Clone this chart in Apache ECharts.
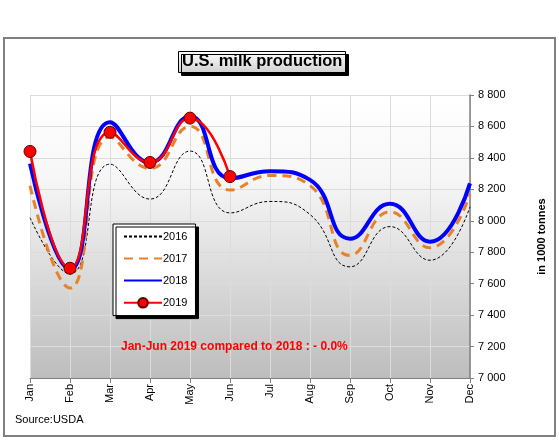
<!DOCTYPE html>
<html><head><meta charset="utf-8">
<script src="https://cdn.jsdelivr.net/npm/echarts@6/dist/echarts.min.js"></script>
<style>html,body{margin:0;padding:0;background:#fff}#c{width:559px;height:441px}</style>
</head><body><div id="c"></div>
<script>
const months = ['Jan','Feb','Mar','Apr','May','Jun','Jul','Aug','Sep','Oct','Nov','Dec'];
const y2016 = [8020, 7662, 8360, 8138, 8443, 8050, 8123, 8040, 7707, 7963, 7749, 8089];
const y2017 = [8223, 7572, 8533, 8332, 8601, 8195, 8288, 8224, 7779, 8057, 7828, 8170];
const y2018 = [8364, 7690, 8627, 8370, 8665, 8270, 8315, 8260, 7886, 8108, 7867, 8238];
const y2019 = [8441, 7698, 8563, 8371, 8653, 8281];
const yMin = 7000, yMax = 8800, yStep = 200;
const titleText = 'U.S. milk production';
const noteText = 'Jan-Jun 2019 compared to 2018 : - 0.0%';
const sourceText = 'Source:USDA';
const yName = 'in 1000 tonnes';

const chart = echarts.init(document.getElementById('c'), null, {renderer:'canvas'});
const font = 'Liberation Sans, Arial, sans-serif';
const noSym = {color:'rgba(0,0,0,0)',borderColor:'rgba(0,0,0,0)',borderWidth:0,opacity:0};
chart.setOption({
  animation:false,
  textStyle:{fontFamily:font},
  title:[{
    text:titleText, left:178, top:51, padding:[2,3,3,4],
    textStyle:{fontSize:16.5,fontWeight:'bold',color:'#000',fontFamily:font},
    backgroundColor:new echarts.graphic.LinearGradient(0,0,0,1,[{offset:0,color:'#ffffff'},{offset:1,color:'#d0d0d0'}]),
    borderColor:'#000',borderWidth:1,
    shadowColor:'rgba(0,0,0,1)',shadowBlur:0,shadowOffsetX:3,shadowOffsetY:3
  },{
    text:noteText, left:121, top:341, padding:0,
    textStyle:{fontSize:12,fontWeight:'bold',color:'#ff0000',fontFamily:font}
  },{
    text:sourceText, left:15, top:414, padding:0,
    textStyle:{fontSize:11,fontWeight:'normal',color:'#000',fontFamily:font}
  }],
  legend:{
    orient:'vertical', left:113, top:224, padding:[7,8,7,10], itemGap:11,
    itemWidth:38, itemHeight:12,
    backgroundColor:'#fff', borderColor:'#000', borderWidth:1,
    shadowColor:'rgba(0,0,0,1)',shadowBlur:0,shadowOffsetX:3,shadowOffsetY:3,
    textStyle:{fontSize:11,color:'#000',padding:[0,0,0,-4]},
    data:[{name:'2016',itemStyle:noSym},{name:'2017',itemStyle:noSym},{name:'2018',itemStyle:noSym},{name:'2019'}]
  },
  grid:{left:30,right:89,top:95,bottom:63,show:true,borderWidth:0,
    backgroundColor:new echarts.graphic.LinearGradient(0,0,0,1,[{offset:0,color:'#ffffff'},{offset:0.3,color:'#f6f6f6'},{offset:1,color:'#bdbdbd'}])},
  xAxis:{type:'category',data:months,boundaryGap:false,
    axisLine:{lineStyle:{color:'#808080',width:1}},
    axisTick:{show:true,length:5,lineStyle:{color:'#808080'}},
    axisLabel:{rotate:90,fontSize:11,color:'#000',margin:6},
    splitLine:{show:true,lineStyle:{color:'#dcdcdc',width:1}}
  },
  yAxis:{type:'value',position:'right',min:yMin,max:yMax,interval:yStep,
    name:yName,nameLocation:'middle',nameRotate:90,nameGap:66,
    nameTextStyle:{fontSize:11,fontWeight:'bold',color:'#000'},
    axisLine:{show:true,lineStyle:{color:'#808080',width:1.5}},
    axisTick:{show:true,length:4,inside:false,lineStyle:{color:'#808080'}},
    axisLabel:{fontSize:11,color:'#000',margin:8,
      formatter:v=>String(v).replace(/\B(?=(\d{3})+(?!\d))/g,' ')},
    splitLine:{show:true,lineStyle:{color:'#dcdcdc',width:1}}
  },
  series:[
    {name:'2016',type:'line',data:y2016,smooth:0.5,symbol:'none',
      lineStyle:{color:'#000',width:1,type:[3,2]},itemStyle:{color:'#000'}},
    {name:'2017',type:'line',data:y2017,smooth:0.5,symbol:'none',
      lineStyle:{color:'#e8822a',width:3,type:[9,6]},itemStyle:{color:'#e8822a'}},
    {name:'2018',type:'line',data:y2018,smooth:0.5,symbol:'none',
      lineStyle:{color:'#0000ff',width:4},itemStyle:{color:'#0000ff'}},
    {name:'2019',type:'line',data:y2019,smooth:0.5,symbol:'circle',symbolSize:12,
      lineStyle:{color:'#ff0000',width:2.5},
      itemStyle:{color:'#ff0000',borderColor:'#600000',borderWidth:1}}
  ],
  graphic:[
    {type:'rect',shape:{x:4,y:38,width:551,height:398},style:{fill:'none',stroke:'#808080',lineWidth:2},z:-10}
  ]
});
</script></body></html>
